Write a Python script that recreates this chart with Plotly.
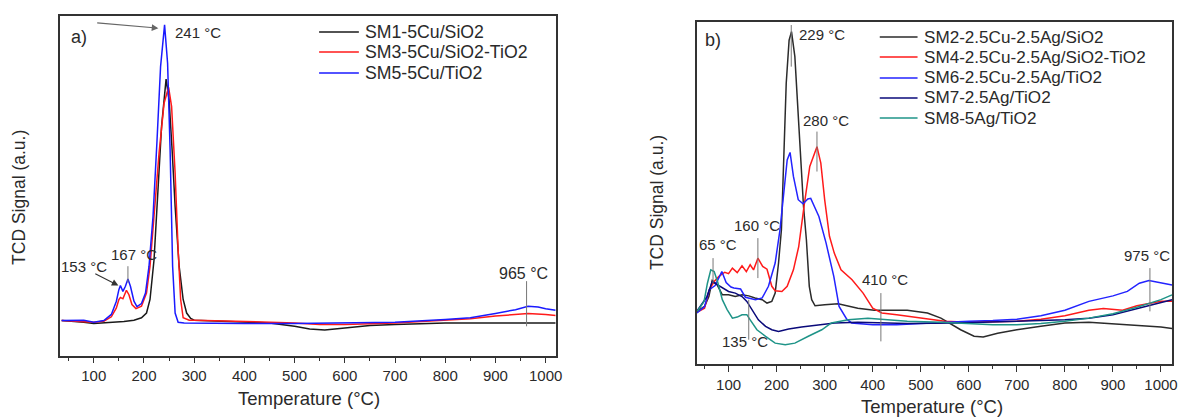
import plotly.graph_objects as go

# ---------------- data (panel a) ----------------
sm1_T = [36, 60, 80, 100, 130, 160, 180, 195, 205, 212, 220, 228, 235, 244, 250, 256, 262, 270, 278, 285, 293, 300, 350, 400, 450, 500, 530, 560, 600, 650, 700, 800, 900, 1020]
sm1_y = [10.3, 10.1, 9.8, 9.4, 9.6, 10.0, 10.4, 11.1, 12.5, 16.5, 28.2, 49.8, 67.5, 81.4, 75.3, 60.6, 43.9, 26.3, 16.5, 12.5, 10.9, 10.4, 10.2, 9.9, 9.6, 8.6, 7.8, 7.5, 8.1, 8.8, 9.1, 9.6, 9.6, 9.6]

sm3_T = [36, 80, 100, 120, 135, 145, 150, 153, 158, 165, 170, 176, 184, 195, 205, 212, 220, 230, 240, 249, 255, 262, 268, 273, 278, 290, 300, 400, 500, 550, 600, 700, 800, 850, 900, 965, 1000, 1020]
sm3_y = [10.3, 10.0, 9.8, 10.1, 11.4, 14.0, 16.5, 17.1, 16.7, 19.2, 17.9, 15.0, 13.8, 14.5, 18.4, 26.3, 41.0, 59.6, 74.3, 79.0, 73.3, 53.7, 31.2, 16.5, 11.1, 10.4, 10.4, 10.1, 9.6, 9.1, 9.1, 9.6, 10.4, 10.8, 11.6, 12.4, 12.1, 11.8]

sm5_T = [36, 80, 100, 120, 135, 145, 150, 153, 158, 163, 168, 173, 180, 186, 195, 203, 210, 218, 226, 233, 241, 247, 252, 257, 262, 268, 280, 350, 400, 500, 600, 700, 800, 850, 900, 940, 965, 985, 1000, 1020]
sm5_y = [10.3, 10.4, 9.8, 10.3, 12.1, 16.0, 19.4, 20.6, 18.9, 20.4, 22.5, 20.4, 16.0, 14.4, 15.3, 18.4, 26.3, 41.0, 63.5, 85.1, 97.4, 86.1, 60.6, 26.3, 12.5, 9.8, 9.6, 9.4, 9.4, 9.4, 9.6, 9.8, 10.6, 11.1, 12.4, 13.5, 14.5, 14.3, 13.8, 13.3]

# ---------------- data (panel b) ----------------
sm2_T = [34, 50, 59, 66, 76, 87, 100, 114, 128, 142, 155, 170, 180, 190, 197, 204, 210, 215, 220, 226, 231, 238, 244, 250, 256, 262, 268, 273, 280, 300, 328, 369, 403, 472, 514, 542, 583, 611, 630, 660, 700, 750, 800, 850, 900, 950, 1000, 1023]
sm2_y = [15.4, 16.8, 19.7, 24.4, 23.2, 20.2, 20.2, 19.7, 20.2, 19.9, 19.3, 18.8, 17.8, 18.3, 20.7, 29.5, 39.2, 62.5, 82.0, 94.6, 97.1, 89.8, 74.2, 57.7, 46.0, 36.3, 22.7, 18.8, 17.0, 17.3, 17.6, 16.3, 15.7, 15.7, 14.9, 13.4, 10.0, 8.1, 7.9, 9.0, 10.0, 11.0, 12.0, 12.2, 11.8, 11.4, 10.8, 10.4]

sm4_T = [34, 50, 60, 70, 80, 92, 100, 108, 118, 128, 137, 145, 152, 161, 171, 180, 190, 197, 211, 222, 235, 246, 257, 269, 284, 292, 300, 310, 320, 334, 357, 380, 400, 419, 450, 500, 550, 600, 700, 750, 800, 850, 880, 920, 950, 1000, 1023]
sm4_y = [15.1, 16.3, 21.7, 24.1, 25.6, 26.8, 26.4, 28.0, 26.7, 28.7, 27.0, 29.0, 27.5, 30.9, 28.5, 27.7, 22.7, 21.4, 21.2, 22.7, 27.5, 34.3, 46.0, 57.7, 63.5, 58.7, 48.0, 37.3, 32.4, 27.5, 24.6, 20.7, 16.3, 14.9, 14.4, 13.4, 12.5, 12.2, 12.5, 13.1, 14.1, 15.7, 16.2, 15.7, 17.0, 18.3, 18.3]

sm6_T = [34, 50, 60, 72, 86, 95, 105, 111, 125, 135, 156, 170, 183, 197, 207, 215, 222, 228, 235, 245, 255, 265, 271, 288, 303, 319, 330, 346, 356, 400, 450, 500, 550, 600, 650, 700, 750, 800, 850, 900, 930, 955, 975, 1000, 1023]
sm6_y = [14.9, 16.8, 21.7, 22.9, 27.0, 23.8, 22.5, 22.2, 21.9, 19.5, 18.8, 19.3, 22.7, 29.5, 39.2, 50.9, 59.6, 61.8, 54.8, 48.0, 46.8, 48.2, 48.4, 43.1, 35.3, 25.6, 16.8, 13.1, 12.0, 11.5, 11.5, 11.8, 12.2, 12.5, 12.7, 13.1, 14.1, 15.7, 18.3, 19.9, 21.2, 23.6, 24.4, 23.8, 23.1]

sm7_T = [34, 55, 66, 76, 87, 100, 114, 128, 138, 149, 162, 177, 190, 204, 225, 252, 287, 321, 369, 403, 472, 576, 650, 700, 800, 850, 900, 950, 1000, 1023]
sm7_y = [15.4, 19.7, 24.1, 23.2, 22.2, 21.2, 20.7, 19.7, 18.3, 15.9, 12.9, 11.0, 10.0, 9.5, 10.2, 10.8, 11.5, 12.0, 12.2, 12.0, 11.8, 12.0, 12.4, 12.5, 12.9, 13.4, 14.4, 16.1, 17.8, 18.8]

sm8_T = [35, 49, 56, 63, 70, 77, 87, 97, 108, 118, 128, 138, 145, 159, 177, 197, 218, 238, 266, 294, 314, 349, 390, 417, 472, 542, 600, 650, 700, 750, 800, 850, 900, 950, 1000, 1023]
sm8_y = [15.4, 18.3, 23.6, 27.5, 27.0, 24.1, 18.8, 15.9, 13.4, 13.7, 14.4, 14.4, 12.9, 10.0, 8.1, 6.1, 5.6, 6.1, 8.1, 10.0, 12.0, 12.9, 13.4, 13.1, 12.5, 12.2, 11.8, 11.5, 11.5, 11.8, 12.5, 13.4, 14.7, 16.6, 18.8, 20.2]

names_a = ["SM1-5Cu/SiO2", "SM3-5Cu/SiO2-TiO2", "SM5-5Cu/TiO2"]
names_b = ["SM2-2.5Cu-2.5Ag/SiO2", "SM4-2.5Cu-2.5Ag/SiO2-TiO2", "SM6-2.5Cu-2.5Ag/TiO2", "SM7-2.5Ag/TiO2", "SM8-5Ag/TiO2"]
colors_a = ["#1a1a1a", "#ff1a1a", "#1a1aff"]
colors_b = ["#2b2b2b", "#ff1a1a", "#2323ff", "#0a0a7a", "#1f9488"]

tick_vals = [100, 200, 300, 400, 500, 600, 700, 800, 900, 1000]
tick_text = [str(v) for v in tick_vals]

FONT = "Arial, Liberation Sans, sans-serif"
TXT = "#2a2a2a"
W, H = 1184, 417

fig = go.Figure()
series_a = [(sm1_T, sm1_y), (sm3_T, sm3_y), (sm5_T, sm5_y)]
series_b = [(sm2_T, sm2_y), (sm4_T, sm4_y), (sm6_T, sm6_y), (sm7_T, sm7_y), (sm8_T, sm8_y)]
for (t, y), n, c in zip(series_a, names_a, colors_a):
    fig.add_trace(go.Scatter(x=t, y=y, name=n, mode="lines", line=dict(color=c, width=1.5),
                             xaxis="x", yaxis="y", showlegend=False))
for (t, y), n, c in zip(series_b, names_b, colors_b):
    fig.add_trace(go.Scatter(x=t, y=y, name=n, mode="lines", line=dict(color=c, width=1.5),
                             xaxis="x2", yaxis="y2", showlegend=False))

def xax(domain, rng, anchor, fsize):
    return dict(domain=domain, range=rng, anchor=anchor, tickvals=tick_vals, ticktext=tick_text,
                ticks="outside", ticklen=6, tickwidth=1.3, tickcolor="#333",
                minor=dict(ticks="outside", ticklen=3.5, tickwidth=1.2, tickcolor="#333", dtick=50, tick0=0),
                showline=True, linecolor="#333", linewidth=1.5, mirror=True, showgrid=False, zeroline=False,
                tickfont=dict(family=FONT, size=fsize, color=TXT))

def yax(domain, anchor):
    return dict(domain=domain, range=[0, 100], anchor=anchor, showticklabels=False, ticks="",
                showline=True, linecolor="#333", linewidth=1.5, mirror=True, showgrid=False, zeroline=False)

fig.update_layout(
    width=W, height=H, margin=dict(l=0, r=0, t=0, b=0),
    paper_bgcolor="white", plot_bgcolor="white",
    xaxis=xax([60 / W, 559 / W], [32, 1020], "y", 15),
    yaxis=yax([1 - 355.5 / H, 1 - 16 / H], "x"),
    xaxis2=xax([701 / W, 1179 / W], [34, 1023], "y2", 15),
    yaxis2=yax([1 - 364 / H, 1 - 21.7 / H], "x2"),
)

ann = []
shapes = []

def ptext(px, py, text, size, xanchor="center", angle=0, yanchor="middle"):
    ann.append(dict(x=px / W, y=1 - py / H, xref="paper", yref="paper", text=text, showarrow=False,
                    xanchor=xanchor, yanchor=yanchor, textangle=angle, borderpad=0,
                    font=dict(family=FONT, size=size, color=TXT)))

# axis titles
ptext(311, 398, "Temperature (°C)", 18.5)
ptext(938, 406, "Temperature (°C)", 18.5)
ptext(19, 197, "TCD Signal (a.u.)", 17.5, angle=-90)
ptext(661, 203, "TCD Signal (a.u.)", 17.5, angle=-90)
# panel letters
ptext(70, 37, "a)", 18, xanchor="left")
ptext(708, 40, "b)", 18, xanchor="left")

# manual legends
def legend(x0, x1, xt, ys, names, colors, size):
    for yy, n, c in zip(ys, names, colors):
        shapes.append(dict(type="line", xref="paper", yref="paper", x0=x0 / W, x1=x1 / W,
                           y0=1 - yy / H, y1=1 - yy / H, line=dict(color=c, width=1.5)))
        ptext(xt, yy, n, size, xanchor="left")

legend(321, 361, 366, [32, 52, 73], names_a, colors_a, 17.7)
legend(885, 923, 928, [37, 57, 78, 98, 118], names_b, colors_b, 17.1)

GREY = "#777"
def dtext(x, y, text, size, xr, yr, xanchor="center"):
    ann.append(dict(x=x, y=y, xref=xr, yref=yr, text=text, showarrow=False, xanchor=xanchor,
                    yanchor="middle", borderpad=0, font=dict(family=FONT, size=size, color=TXT)))

def vline(x, y0, y1, xr, yr):
    shapes.append(dict(type="line", xref=xr, yref=yr, x0=x, x1=x, y0=y0, y1=y1,
                       line=dict(color=GREY, width=1)))

def arrow(xt, yt, xh, yh, xr, yr, color):
    ann.append(dict(x=xh, y=yh, ax=xt, ay=yt, xref=xr, yref=yr, axref=xr, ayref=yr, text="",
                    showarrow=True, arrowhead=2, arrowsize=1.2, arrowwidth=1.1, arrowcolor=color,
                    standoff=0, startstandoff=0))

# panel a annotations
arrow(103.8, 98.0, 228.6, 96.4, "x", "y", "#666")
dtext(258.8, 95.2, "241 °C", 15, "x", "y", xanchor="left")
dtext(81, 26.3, "153 °C", 15, "x", "y")
arrow(100, 24.3, 149, 20.6, "x", "y", "#333")
dtext(179.4, 29.7, "167 °C", 15, "x", "y")
vline(168, 26.3, 21.4, "x", "y")
dtext(956, 24.3, "965 °C", 16, "x", "y")
vline(962, 21.9, 8.6, "x", "y")

# panel b annotations (vertical positions, 0-100 scale)
def by(zy):
    return (1093 - zy) / 10.28

dtext(244, by(103), "229 °C", 15, "x2", "y2", xanchor="left")
vline(230.5, by(75), by(200), "x2", "y2")
dtext(302, by(363), "280 °C", 15, "x2", "y2")
vline(284, by(395), by(515), "x2", "y2")
dtext(159, by(677), "160 °C", 15, "x2", "y2")
vline(161, by(715), by(835), "x2", "y2")
dtext(77, by(733), "65 °C", 15, "x2", "y2")
vline(67.7, by(775), by(850), "x2", "y2")
dtext(134, by(1025), "135 °C", 15, "x2", "y2")
vline(142, by(900), by(1020), "x2", "y2")
dtext(426, by(838), "410 °C", 15, "x2", "y2")
vline(417, by(880), by(1025), "x2", "y2")
dtext(971.6, by(768), "975 °C", 15, "x2", "y2")
vline(977, by(805), by(935), "x2", "y2")

fig.update_layout(annotations=ann, shapes=shapes)
# remove the default 8px page margin so the figure fills the window exactly
fig.write_html("out.html", config={"displayModeBar": False},
               post_script="document.body.style.margin='0px';document.body.style.overflow='hidden';")
